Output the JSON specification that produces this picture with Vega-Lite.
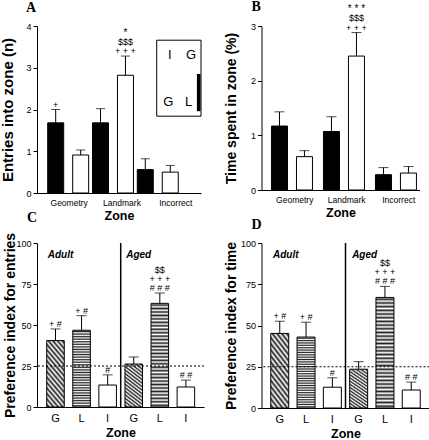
{
"$schema": "https://vega.github.io/schema/vega-lite/v6.json",
"padding": {"left": 0, "top": -1, "right": 0, "bottom": 0},
"columns": 2,
"spacing": {"row": -12, "column": 18.5},
"config": {
 "view": {"stroke": null},
 "font": "Liberation Sans",
 "axis": {"grid": false, "domainColor": "black", "domainWidth": 1, "tickColor": "black", "labelColor": "black", "titleColor": "black", "labelFont": "Liberation Sans", "titleFont": "Liberation Sans", "titleFontWeight": "bold"},
 "axisX": {"ticks": false, "tickSize": 0, "labelAngle": 0, "titleFontSize": 12.5, "titlePadding": 3, "labelPadding": 5},
 "axisY": {"tickSize": 4, "labelPadding": 2, "labelFontSize": 9, "titleFontSize": 14, "format": "d"},
 "title": {"font": "Liberation Serif", "fontSize": 14, "fontWeight": "bold", "anchor": "start", "frame": "group", "dx": -11, "baseline": "alphabetic", "color": "black"},
 "text": {"font": "Liberation Sans", "color": "black", "fill": "black"}
},
"datasets": {
 "entries": [
  {"zone":"Geometry","group":"Adult","mean":1.68,"hi":2.0,"s1":"+"},
  {"zone":"Geometry","group":"Aged","mean":0.91,"hi":1.03},
  {"zone":"Landmark","group":"Adult","mean":1.68,"hi":2.02},
  {"zone":"Landmark","group":"Aged","mean":2.82,"hi":3.28,"s1":"+ + +","s2":"$$$","s3":"*"},
  {"zone":"Incorrect","group":"Adult","mean":0.56,"hi":0.82},
  {"zone":"Incorrect","group":"Aged","mean":0.5,"hi":0.66}
 ],
 "time": [
  {"zone":"Geometry","group":"Adult","mean":1.17,"hi":1.43},
  {"zone":"Geometry","group":"Aged","mean":0.61,"hi":0.72},
  {"zone":"Landmark","group":"Adult","mean":1.07,"hi":1.34},
  {"zone":"Landmark","group":"Aged","mean":2.45,"hi":2.88,"s1":"+ + +","s2":"$$$","s3":"* * *"},
  {"zone":"Incorrect","group":"Adult","mean":0.28,"hi":0.41},
  {"zone":"Incorrect","group":"Aged","mean":0.31,"hi":0.43}
 ],
 "prefEntries": [
  {"bar":"Adult G","group":"Adult","zone":"G","mean":40.5,"hi":47.6,"s1":"+ #"},
  {"bar":"Adult L","group":"Adult","zone":"L","mean":46.8,"hi":55.7,"s1":"+ #"},
  {"bar":"Adult I","group":"Adult","zone":"I","mean":13.4,"hi":19.6,"s1":"#"},
  {"bar":"Aged G","group":"Aged","zone":"G","mean":26.2,"hi":30.5},
  {"bar":"Aged L","group":"Aged","zone":"L","mean":63.2,"hi":69.5,"s1":"# # #","s2":"+ + +","s3":"$$"},
  {"bar":"Aged I","group":"Aged","zone":"I","mean":12.2,"hi":16.4,"s1":"# #"}
 ],
 "prefTime": [
  {"bar":"Adult G","group":"Adult","zone":"G","mean":45.2,"hi":52.6,"s1":"+ #"},
  {"bar":"Adult L","group":"Adult","zone":"L","mean":43.0,"hi":52.0,"s1":"+ #"},
  {"bar":"Adult I","group":"Adult","zone":"I","mean":12.6,"hi":18.3,"s1":"#"},
  {"bar":"Aged G","group":"Aged","zone":"G","mean":23.5,"hi":28.1},
  {"bar":"Aged L","group":"Aged","zone":"L","mean":67.0,"hi":73.7,"s1":"# # #","s2":"+ + +","s3":"$$"},
  {"bar":"Aged I","group":"Aged","zone":"I","mean":10.9,"hi":15.7,"s1":"# #"}
 ],
 "arena": [
  {"label":"I","col":0.81,"row":3.31},
  {"label":"G","col":0.94,"row":3.31},
  {"label":"G","col":0.8,"row":2.18},
  {"label":"L","col":0.925,"row":2.18}
 ],
 "groups": [{"bar":"Adult G","label":"Adult"},{"bar":"Aged G","label":"Aged"}]
},
"concat": [
 {
  "width": 164, "height": 167,
  "title": {"text": "A", "offset": 7.5},
  "layer": [
   {
    "data": {"name": "entries"},
    "encoding": {
     "x": {"field": "zone", "type": "nominal", "title": "Zone",
       "scale": {"domain": ["Geometry","Landmark","Incorrect"], "paddingInner": 0.085, "paddingOuter": 0.373, "align": 0.32},
       "axis": {"labelFontSize": 8.5, "labelOffset": {"condition": [{"test": "datum.value === 'Landmark'", "value": 9}, {"test": "datum.value === 'Incorrect'", "value": 18}], "value": 1}}},
     "xOffset": {"field": "group", "type": "nominal", "scale": {"domain": ["Adult","Aged"], "paddingInner": 0.36, "paddingOuter": 0}}
    },
    "layer": [
     {"mark": {"type": "bar", "stroke": "black", "strokeWidth": 1},
      "encoding": {
       "y": {"field": "mean", "type": "quantitative", "title": "Entries into zone (n)", "scale": {"domain": [0,4], "nice": false}, "axis": {"values": [0,1,2,3,4], "titlePadding": 10, "titleFontSize": 15}},
       "fill": {"field": "group", "type": "nominal", "scale": {"domain": ["Adult","Aged"], "range": ["black","white"]}, "legend": null}}},
     {"mark": {"type": "rule", "color": "black"}, "encoding": {"y": {"field": "mean", "type": "quantitative"}, "y2": {"field": "hi"}}},
     {"mark": {"type": "tick", "color": "black", "size": 9, "thickness": 1}, "encoding": {"y": {"field": "hi", "type": "quantitative"}}},
     {"transform": [{"filter": "isValid(datum.s1)"}], "mark": {"type": "text", "dy": -5, "fontSize": 9, "baseline": "middle", "fill": "black"}, "encoding": {"y": {"field": "hi", "type": "quantitative"}, "text": {"field": "s1"}}},
     {"transform": [{"filter": "isValid(datum.s2)"}], "mark": {"type": "text", "dy": -14.5, "fontSize": 9, "baseline": "middle", "fill": "black"}, "encoding": {"y": {"field": "hi", "type": "quantitative"}, "text": {"field": "s2"}}},
     {"transform": [{"filter": "isValid(datum.s3)"}], "mark": {"type": "text", "dy": -23.5, "fontSize": 10, "baseline": "middle", "fill": "black"}, "encoding": {"y": {"field": "hi", "type": "quantitative"}, "text": {"field": "s3"}}}
    ]
   },
   {
    "data": {"values": [{}]},
    "layer": [
     {"mark": {"type": "rect", "fill": "white", "stroke": "black", "strokeWidth": 1},
      "encoding": {"x": {"datum": 0.73, "type": "quantitative", "scale": {"domain": [0,1], "nice": false, "zero": false}, "axis": null}, "x2": {"datum": 1}, "y": {"datum": 1.84, "type": "quantitative"}, "y2": {"datum": 3.66}}},
     {"mark": {"type": "rect", "fill": "black"},
      "encoding": {"x": {"datum": 0.975, "type": "quantitative", "axis": null}, "x2": {"datum": 0.997}, "y": {"datum": 1.96, "type": "quantitative"}, "y2": {"datum": 2.85}}},
     {"data": {"name": "arena"}, "mark": {"type": "text", "fontSize": 13, "baseline": "middle", "fill": "black"},
      "encoding": {"x": {"field": "col", "type": "quantitative", "axis": null}, "y": {"field": "row", "type": "quantitative"}, "text": {"field": "label"}}}
    ]
   }
  ],
  "resolve": {"scale": {"x": "independent"}}
 },
 {
  "width": 158, "height": 164,
  "title": {"text": "B", "offset": -9.9, "dx": -10},
  "data": {"name": "time"},
  "encoding": {
   "x": {"field": "zone", "type": "nominal", "title": "Zone",
     "scale": {"domain": ["Geometry","Landmark","Incorrect"], "paddingInner": 0.163, "paddingOuter": 0.101, "align": 0.95},
     "axis": {"labelFontSize": 8.5, "labelOffset": 1.5}},
   "xOffset": {"field": "group", "type": "nominal", "scale": {"domain": ["Adult","Aged"], "paddingInner": 0.327, "paddingOuter": 0}}
  },
  "layer": [
   {"mark": {"type": "bar", "stroke": "black", "strokeWidth": 1},
    "encoding": {
     "y": {"field": "mean", "type": "quantitative", "title": "Time spent in zone (%)", "scale": {"domain": [0,3], "nice": false}, "axis": {"values": [0,1,2,3], "format": "d", "titlePadding": 12}},
     "fill": {"field": "group", "type": "nominal", "scale": {"domain": ["Adult","Aged"], "range": ["black","white"]}, "legend": null}}},
   {"mark": {"type": "rule", "color": "black"}, "encoding": {"y": {"field": "mean", "type": "quantitative"}, "y2": {"field": "hi"}}},
   {"mark": {"type": "tick", "color": "black", "size": 10, "thickness": 1}, "encoding": {"y": {"field": "hi", "type": "quantitative"}}},
   {"transform": [{"filter": "isValid(datum.s1)"}], "mark": {"type": "text", "dy": -5, "fontSize": 9, "baseline": "middle", "fill": "black"}, "encoding": {"y": {"field": "hi", "type": "quantitative"}, "text": {"field": "s1"}}},
   {"transform": [{"filter": "isValid(datum.s2)"}], "mark": {"type": "text", "dy": -14.5, "fontSize": 9, "baseline": "middle", "fill": "black"}, "encoding": {"y": {"field": "hi", "type": "quantitative"}, "text": {"field": "s2"}}},
   {"transform": [{"filter": "isValid(datum.s3)"}], "mark": {"type": "text", "dy": -23.5, "fontSize": 10, "baseline": "middle", "fill": "black"}, "encoding": {"y": {"field": "hi", "type": "quantitative"}, "text": {"field": "s3"}}}
  ]
 },
 {
  "width": 167, "height": 164,
  "title": {"text": "C", "offset": 7.5, "dx": -10},
  "layer": [
   {
    "data": {"name": "prefEntries"},
    "encoding": {
     "x": {"field": "bar", "type": "nominal", "title": "Zone",
       "scale": {"domain": ["Adult G","Adult L","Adult I","Aged G","Aged L","Aged I"], "paddingInner": 0.327, "paddingOuter": 0.365, "align": 0.51},
       "axis": {"labelExpr": "slice(datum.value, -1)", "labelFontSize": 11}}
    },
    "layer": [
     {"transform": [{"filter": "datum.zone === 'G'"}],
      "mark": {"type": "bar", "stroke": "black", "strokeWidth": 1, "fill": {"gradient": "linear", "x1": 0, "y1": 1, "x2": 0.374, "y2": -0.196, "stops": [
       {"offset":0,"color":"#fff"},{"offset":0.0313,"color":"#222"},{"offset":0.0625,"color":"#fff"},{"offset":0.0938,"color":"#222"},{"offset":0.125,"color":"#fff"},{"offset":0.1563,"color":"#222"},{"offset":0.1875,"color":"#fff"},{"offset":0.2188,"color":"#222"},{"offset":0.25,"color":"#fff"},{"offset":0.2813,"color":"#222"},{"offset":0.3125,"color":"#fff"},{"offset":0.3438,"color":"#222"},{"offset":0.375,"color":"#fff"},{"offset":0.4063,"color":"#222"},{"offset":0.4375,"color":"#fff"},{"offset":0.4688,"color":"#222"},{"offset":0.5,"color":"#fff"},{"offset":0.5313,"color":"#222"},{"offset":0.5625,"color":"#fff"},{"offset":0.5938,"color":"#222"},{"offset":0.625,"color":"#fff"},{"offset":0.6563,"color":"#222"},{"offset":0.6875,"color":"#fff"},{"offset":0.7188,"color":"#222"},{"offset":0.75,"color":"#fff"},{"offset":0.7813,"color":"#222"},{"offset":0.8125,"color":"#fff"},{"offset":0.8438,"color":"#222"},{"offset":0.875,"color":"#fff"},{"offset":0.9063,"color":"#222"},{"offset":0.9375,"color":"#fff"},{"offset":0.9688,"color":"#222"},{"offset":1,"color":"#fff"}]}},
      "encoding": {"y": {"field": "mean", "type": "quantitative", "title": "Preference index for entries", "scale": {"domain": [0,100], "nice": false}, "axis": {"values": [0,25,50,75,100], "titlePadding": -2}}}},
     {"transform": [{"filter": "datum.zone === 'L'"}],
      "mark": {"type": "bar", "stroke": "black", "strokeWidth": 1, "fill": {"gradient": "linear", "x1": 0, "y1": 0, "x2": 0, "y2": 1, "stops": [
       {"offset":0,"color":"#fff"},{"offset":0.0167,"color":"#222"},{"offset":0.0333,"color":"#fff"},{"offset":0.05,"color":"#222"},{"offset":0.0667,"color":"#fff"},{"offset":0.0833,"color":"#222"},{"offset":0.1,"color":"#fff"},{"offset":0.1167,"color":"#222"},{"offset":0.1333,"color":"#fff"},{"offset":0.15,"color":"#222"},{"offset":0.1667,"color":"#fff"},{"offset":0.1833,"color":"#222"},{"offset":0.2,"color":"#fff"},{"offset":0.2167,"color":"#222"},{"offset":0.2333,"color":"#fff"},{"offset":0.25,"color":"#222"},{"offset":0.2667,"color":"#fff"},{"offset":0.2833,"color":"#222"},{"offset":0.3,"color":"#fff"},{"offset":0.3167,"color":"#222"},{"offset":0.3333,"color":"#fff"},{"offset":0.35,"color":"#222"},{"offset":0.3667,"color":"#fff"},{"offset":0.3833,"color":"#222"},{"offset":0.4,"color":"#fff"},{"offset":0.4167,"color":"#222"},{"offset":0.4333,"color":"#fff"},{"offset":0.45,"color":"#222"},{"offset":0.4667,"color":"#fff"},{"offset":0.4833,"color":"#222"},{"offset":0.5,"color":"#fff"},{"offset":0.5167,"color":"#222"},{"offset":0.5333,"color":"#fff"},{"offset":0.55,"color":"#222"},{"offset":0.5667,"color":"#fff"},{"offset":0.5833,"color":"#222"},{"offset":0.6,"color":"#fff"},{"offset":0.6167,"color":"#222"},{"offset":0.6333,"color":"#fff"},{"offset":0.65,"color":"#222"},{"offset":0.6667,"color":"#fff"},{"offset":0.6833,"color":"#222"},{"offset":0.7,"color":"#fff"},{"offset":0.7167,"color":"#222"},{"offset":0.7333,"color":"#fff"},{"offset":0.75,"color":"#222"},{"offset":0.7667,"color":"#fff"},{"offset":0.7833,"color":"#222"},{"offset":0.8,"color":"#fff"},{"offset":0.8167,"color":"#222"},{"offset":0.8333,"color":"#fff"},{"offset":0.85,"color":"#222"},{"offset":0.8667,"color":"#fff"},{"offset":0.8833,"color":"#222"},{"offset":0.9,"color":"#fff"},{"offset":0.9167,"color":"#222"},{"offset":0.9333,"color":"#fff"},{"offset":0.95,"color":"#222"},{"offset":0.9667,"color":"#fff"},{"offset":0.9833,"color":"#222"},{"offset":1,"color":"#fff"}]}},
      "encoding": {"y": {"field": "mean", "type": "quantitative"}}},
     {"transform": [{"filter": "datum.zone === 'I'"}], "mark": {"type": "bar", "stroke": "black", "strokeWidth": 1, "fill": "white"}, "encoding": {"y": {"field": "mean", "type": "quantitative"}}},
     {"mark": {"type": "rule", "color": "black"}, "encoding": {"y": {"field": "mean", "type": "quantitative"}, "y2": {"field": "hi"}}},
     {"mark": {"type": "tick", "color": "black", "size": 10, "thickness": 1}, "encoding": {"y": {"field": "hi", "type": "quantitative"}}},
     {"transform": [{"filter": "isValid(datum.s1)"}], "mark": {"type": "text", "dy": -5, "fontSize": 9, "baseline": "middle", "fill": "black"}, "encoding": {"y": {"field": "hi", "type": "quantitative"}, "text": {"field": "s1"}}},
     {"transform": [{"filter": "isValid(datum.s2)"}], "mark": {"type": "text", "dy": -14.5, "fontSize": 9, "baseline": "middle", "fill": "black"}, "encoding": {"y": {"field": "hi", "type": "quantitative"}, "text": {"field": "s2"}}},
     {"transform": [{"filter": "isValid(datum.s3)"}], "mark": {"type": "text", "dy": -23.5, "fontSize": 9, "baseline": "middle", "fill": "black"}, "encoding": {"y": {"field": "hi", "type": "quantitative"}, "text": {"field": "s3"}}}
    ]
   },
   {"data": {"values": [{}]}, "mark": {"type": "rule", "strokeDash": [2,2], "color": "black", "strokeWidth": 1}, "encoding": {"y": {"datum": 25, "type": "quantitative"}}},
   {"data": {"values": [{}]}, "mark": {"type": "rule", "color": "black", "strokeWidth": 1.5, "xOffset": -4.25}, "encoding": {"x": {"datum": "Aged G", "type": "nominal", "bandPosition": 0}, "y": {"datum": 0, "type": "quantitative"}, "y2": {"datum": 100}}},
   {"data": {"name": "groups"}, "mark": {"type": "text", "fontSize": 10, "fontWeight": "bold", "fontStyle": "italic", "dx": 5, "baseline": "middle", "fill": "black"}, "encoding": {"x": {"field": "bar", "type": "nominal"}, "y": {"datum": 92.5, "type": "quantitative"}, "text": {"field": "label"}}}
  ]
 },
 {
  "width": 168, "height": 165,
  "title": {"text": "D", "offset": 7.5, "dx": -10},
  "layer": [
   {
    "data": {"name": "prefTime"},
    "encoding": {
     "x": {"field": "bar", "type": "nominal", "title": "Zone",
       "scale": {"domain": ["Adult G","Adult L","Adult I","Aged G","Aged L","Aged I"], "paddingInner": 0.316, "paddingOuter": 0.352, "align": 0.5},
       "axis": {"labelExpr": "slice(datum.value, -1)", "labelFontSize": 11}}
    },
    "layer": [
     {"transform": [{"filter": "datum.zone === 'G'"}],
      "mark": {"type": "bar", "stroke": "black", "strokeWidth": 1, "fill": {"gradient": "linear", "x1": 0, "y1": 1, "x2": 0.374, "y2": -0.196, "stops": [
       {"offset":0,"color":"#fff"},{"offset":0.0313,"color":"#222"},{"offset":0.0625,"color":"#fff"},{"offset":0.0938,"color":"#222"},{"offset":0.125,"color":"#fff"},{"offset":0.1563,"color":"#222"},{"offset":0.1875,"color":"#fff"},{"offset":0.2188,"color":"#222"},{"offset":0.25,"color":"#fff"},{"offset":0.2813,"color":"#222"},{"offset":0.3125,"color":"#fff"},{"offset":0.3438,"color":"#222"},{"offset":0.375,"color":"#fff"},{"offset":0.4063,"color":"#222"},{"offset":0.4375,"color":"#fff"},{"offset":0.4688,"color":"#222"},{"offset":0.5,"color":"#fff"},{"offset":0.5313,"color":"#222"},{"offset":0.5625,"color":"#fff"},{"offset":0.5938,"color":"#222"},{"offset":0.625,"color":"#fff"},{"offset":0.6563,"color":"#222"},{"offset":0.6875,"color":"#fff"},{"offset":0.7188,"color":"#222"},{"offset":0.75,"color":"#fff"},{"offset":0.7813,"color":"#222"},{"offset":0.8125,"color":"#fff"},{"offset":0.8438,"color":"#222"},{"offset":0.875,"color":"#fff"},{"offset":0.9063,"color":"#222"},{"offset":0.9375,"color":"#fff"},{"offset":0.9688,"color":"#222"},{"offset":1,"color":"#fff"}]}},
      "encoding": {"y": {"field": "mean", "type": "quantitative", "title": "Preference index for time", "scale": {"domain": [0,100], "nice": false}, "axis": {"values": [0,25,50,75,100], "titlePadding": 2}}}},
     {"transform": [{"filter": "datum.zone === 'L'"}],
      "mark": {"type": "bar", "stroke": "black", "strokeWidth": 1, "fill": {"gradient": "linear", "x1": 0, "y1": 0, "x2": 0, "y2": 1, "stops": [
       {"offset":0,"color":"#fff"},{"offset":0.0167,"color":"#222"},{"offset":0.0333,"color":"#fff"},{"offset":0.05,"color":"#222"},{"offset":0.0667,"color":"#fff"},{"offset":0.0833,"color":"#222"},{"offset":0.1,"color":"#fff"},{"offset":0.1167,"color":"#222"},{"offset":0.1333,"color":"#fff"},{"offset":0.15,"color":"#222"},{"offset":0.1667,"color":"#fff"},{"offset":0.1833,"color":"#222"},{"offset":0.2,"color":"#fff"},{"offset":0.2167,"color":"#222"},{"offset":0.2333,"color":"#fff"},{"offset":0.25,"color":"#222"},{"offset":0.2667,"color":"#fff"},{"offset":0.2833,"color":"#222"},{"offset":0.3,"color":"#fff"},{"offset":0.3167,"color":"#222"},{"offset":0.3333,"color":"#fff"},{"offset":0.35,"color":"#222"},{"offset":0.3667,"color":"#fff"},{"offset":0.3833,"color":"#222"},{"offset":0.4,"color":"#fff"},{"offset":0.4167,"color":"#222"},{"offset":0.4333,"color":"#fff"},{"offset":0.45,"color":"#222"},{"offset":0.4667,"color":"#fff"},{"offset":0.4833,"color":"#222"},{"offset":0.5,"color":"#fff"},{"offset":0.5167,"color":"#222"},{"offset":0.5333,"color":"#fff"},{"offset":0.55,"color":"#222"},{"offset":0.5667,"color":"#fff"},{"offset":0.5833,"color":"#222"},{"offset":0.6,"color":"#fff"},{"offset":0.6167,"color":"#222"},{"offset":0.6333,"color":"#fff"},{"offset":0.65,"color":"#222"},{"offset":0.6667,"color":"#fff"},{"offset":0.6833,"color":"#222"},{"offset":0.7,"color":"#fff"},{"offset":0.7167,"color":"#222"},{"offset":0.7333,"color":"#fff"},{"offset":0.75,"color":"#222"},{"offset":0.7667,"color":"#fff"},{"offset":0.7833,"color":"#222"},{"offset":0.8,"color":"#fff"},{"offset":0.8167,"color":"#222"},{"offset":0.8333,"color":"#fff"},{"offset":0.85,"color":"#222"},{"offset":0.8667,"color":"#fff"},{"offset":0.8833,"color":"#222"},{"offset":0.9,"color":"#fff"},{"offset":0.9167,"color":"#222"},{"offset":0.9333,"color":"#fff"},{"offset":0.95,"color":"#222"},{"offset":0.9667,"color":"#fff"},{"offset":0.9833,"color":"#222"},{"offset":1,"color":"#fff"}]}},
      "encoding": {"y": {"field": "mean", "type": "quantitative"}}},
     {"transform": [{"filter": "datum.zone === 'I'"}], "mark": {"type": "bar", "stroke": "black", "strokeWidth": 1, "fill": "white"}, "encoding": {"y": {"field": "mean", "type": "quantitative"}}},
     {"mark": {"type": "rule", "color": "black"}, "encoding": {"y": {"field": "mean", "type": "quantitative"}, "y2": {"field": "hi"}}},
     {"mark": {"type": "tick", "color": "black", "size": 10, "thickness": 1}, "encoding": {"y": {"field": "hi", "type": "quantitative"}}},
     {"transform": [{"filter": "isValid(datum.s1)"}], "mark": {"type": "text", "dy": -5, "fontSize": 9, "baseline": "middle", "fill": "black"}, "encoding": {"y": {"field": "hi", "type": "quantitative"}, "text": {"field": "s1"}}},
     {"transform": [{"filter": "isValid(datum.s2)"}], "mark": {"type": "text", "dy": -14.5, "fontSize": 9, "baseline": "middle", "fill": "black"}, "encoding": {"y": {"field": "hi", "type": "quantitative"}, "text": {"field": "s2"}}},
     {"transform": [{"filter": "isValid(datum.s3)"}], "mark": {"type": "text", "dy": -23.5, "fontSize": 9, "baseline": "middle", "fill": "black"}, "encoding": {"y": {"field": "hi", "type": "quantitative"}, "text": {"field": "s3"}}}
    ]
   },
   {"data": {"values": [{}]}, "mark": {"type": "rule", "strokeDash": [2,2], "color": "black", "strokeWidth": 1}, "encoding": {"y": {"datum": 25, "type": "quantitative"}}},
   {"data": {"values": [{}]}, "mark": {"type": "rule", "color": "black", "strokeWidth": 1.5, "xOffset": -4.15}, "encoding": {"x": {"datum": "Aged G", "type": "nominal", "bandPosition": 0}, "y": {"datum": 0, "type": "quantitative"}, "y2": {"datum": 100}}},
   {"data": {"name": "groups"}, "mark": {"type": "text", "fontSize": 10, "fontWeight": "bold", "fontStyle": "italic", "dx": 6, "baseline": "middle", "fill": "black"}, "encoding": {"x": {"field": "bar", "type": "nominal"}, "y": {"datum": 92.5, "type": "quantitative"}, "text": {"field": "label"}}}
  ]
 }
]
}
